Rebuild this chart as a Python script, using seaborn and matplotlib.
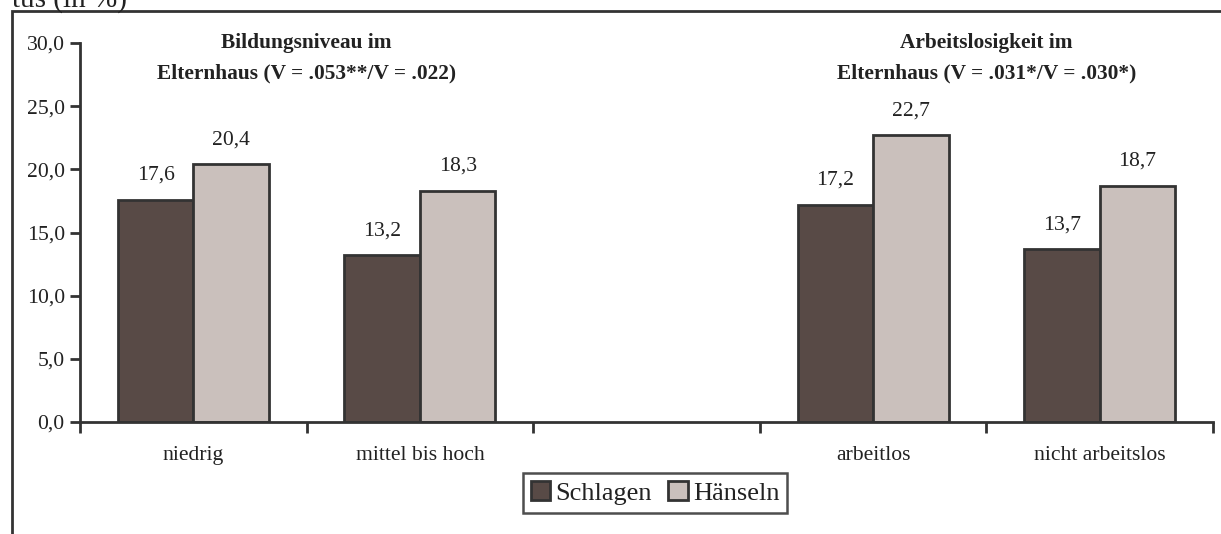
import numpy as np
import pandas as pd
import matplotlib
matplotlib.use("Agg")
import matplotlib.pyplot as plt
import seaborn as sns
from matplotlib.patches import Rectangle

categories = ["niedrig", "mittel bis hoch", " ", "arbeitlos", "nicht arbeitslos"]
data_categories = ["niedrig", "mittel bis hoch", "arbeitlos", "nicht arbeitslos"]
schlagen = [17.6, 13.2, 17.2, 13.7]
haenseln = [20.4, 18.3, 22.7, 18.7]
series = ["Schlagen", "Hänseln"]
yticks = [0, 5, 10, 15, 20, 25, 30]
group_titles = ["Bildungsniveau im\nElternhaus (V = .053**/V = .022)",
                "Arbeitslosigkeit im\nElternhaus (V = .031*/V = .030*)"]
colors = ["#584a46", "#cac0bc"]

df = pd.DataFrame({
    "Kategorie": data_categories * 2,
    "Wert": schlagen + haenseln,
    "Art": [series[0]] * 4 + [series[1]] * 4,
})

sns.set_style("white")
plt.rcParams["font.family"] = ["Liberation Serif", "DejaVu Serif"]

fig = plt.figure(figsize=(12.21, 5.34), dpi=100)
ax = fig.add_axes([80 / 1221, 1 - 422 / 534, 1133 / 1221, 379 / 534])

sns.barplot(data=df, x="Kategorie", y="Wert", hue="Art", order=categories,
            hue_order=series, palette=colors, width=0.667,
            edgecolor="#333333", linewidth=2, saturation=1, ax=ax, legend=False)

ax.set_xlim(-0.5, 4.5)
ax.set_ylim(0, 30)
ax.set_yticks(yticks)
ax.set_yticklabels([f"{v:.1f}".replace(".", ",") for v in yticks], fontsize=15.6, color="#222222")
ax.set_xticks(range(len(categories)))
ax.set_xticklabels(categories, fontsize=15.6, color="#222222")
ax.set_xticks(np.arange(-0.5, 4.6, 1), minor=True)
ax.tick_params(axis="x", which="major", bottom=True, length=0, pad=17)
ax.tick_params(axis="x", which="minor", bottom=True, length=8, width=2, color="#333333",
               direction="out")
ax.tick_params(axis="y", left=True, length=7, width=2, color="#333333", direction="out", pad=4)
ax.set_xlabel("")
ax.set_ylabel("")
for side in ["top", "right"]:
    ax.spines[side].set_visible(False)
for side in ["left", "bottom"]:
    ax.spines[side].set_linewidth(2)
    ax.spines[side].set_color("#333333")

# Werte über den Balken
for bar in ax.patches:
    h = bar.get_height()
    if np.isnan(h) or bar.get_width() == 0:
        continue
    ax.annotate(f"{h:.1f}".replace(".", ","), (bar.get_x() + bar.get_width() / 2, h),
                xytext=(0, 17.5), textcoords="offset points", ha="center", va="center",
                fontsize=15.6, color="#222222")

ax.text(0.5, 28.8, group_titles[0], ha="center", va="center", fontsize=15.4,
        fontweight="bold", color="#222222", linespacing=1.75)
ax.text(3.5, 28.8, group_titles[1], ha="center", va="center", fontsize=15.4,
        fontweight="bold", color="#222222", linespacing=1.75)

handles = [Rectangle((0, 0), 1, 1, facecolor=c, edgecolor="#333333", linewidth=2)
           for c in colors]
leg = fig.legend(handles, series, loc="center", bbox_to_anchor=(655 / 1221, 1 - 493 / 534),
                 ncol=2, fontsize=19, frameon=True, fancybox=False, handlelength=0.75,
                 handleheight=0.75, handletextpad=0.2, columnspacing=0.6, borderpad=0.3,
                 borderaxespad=0)
leg.get_frame().set_edgecolor("#222222")
leg.get_frame().set_linewidth(1.8)
for t in leg.get_texts():
    t.set_color("#222222")

fig.patches.append(Rectangle((12 / 1221, -0.1), 1.2, 1.1 - 11 / 534, transform=fig.transFigure,
                             fill=False, edgecolor="#333333", linewidth=2))
fig.text(12 / 1221, 1 - 7 / 534, "tus (in %)", ha="left", va="baseline", fontsize=21,
         color="#222222")

fig.savefig("out.png", dpi=100)
